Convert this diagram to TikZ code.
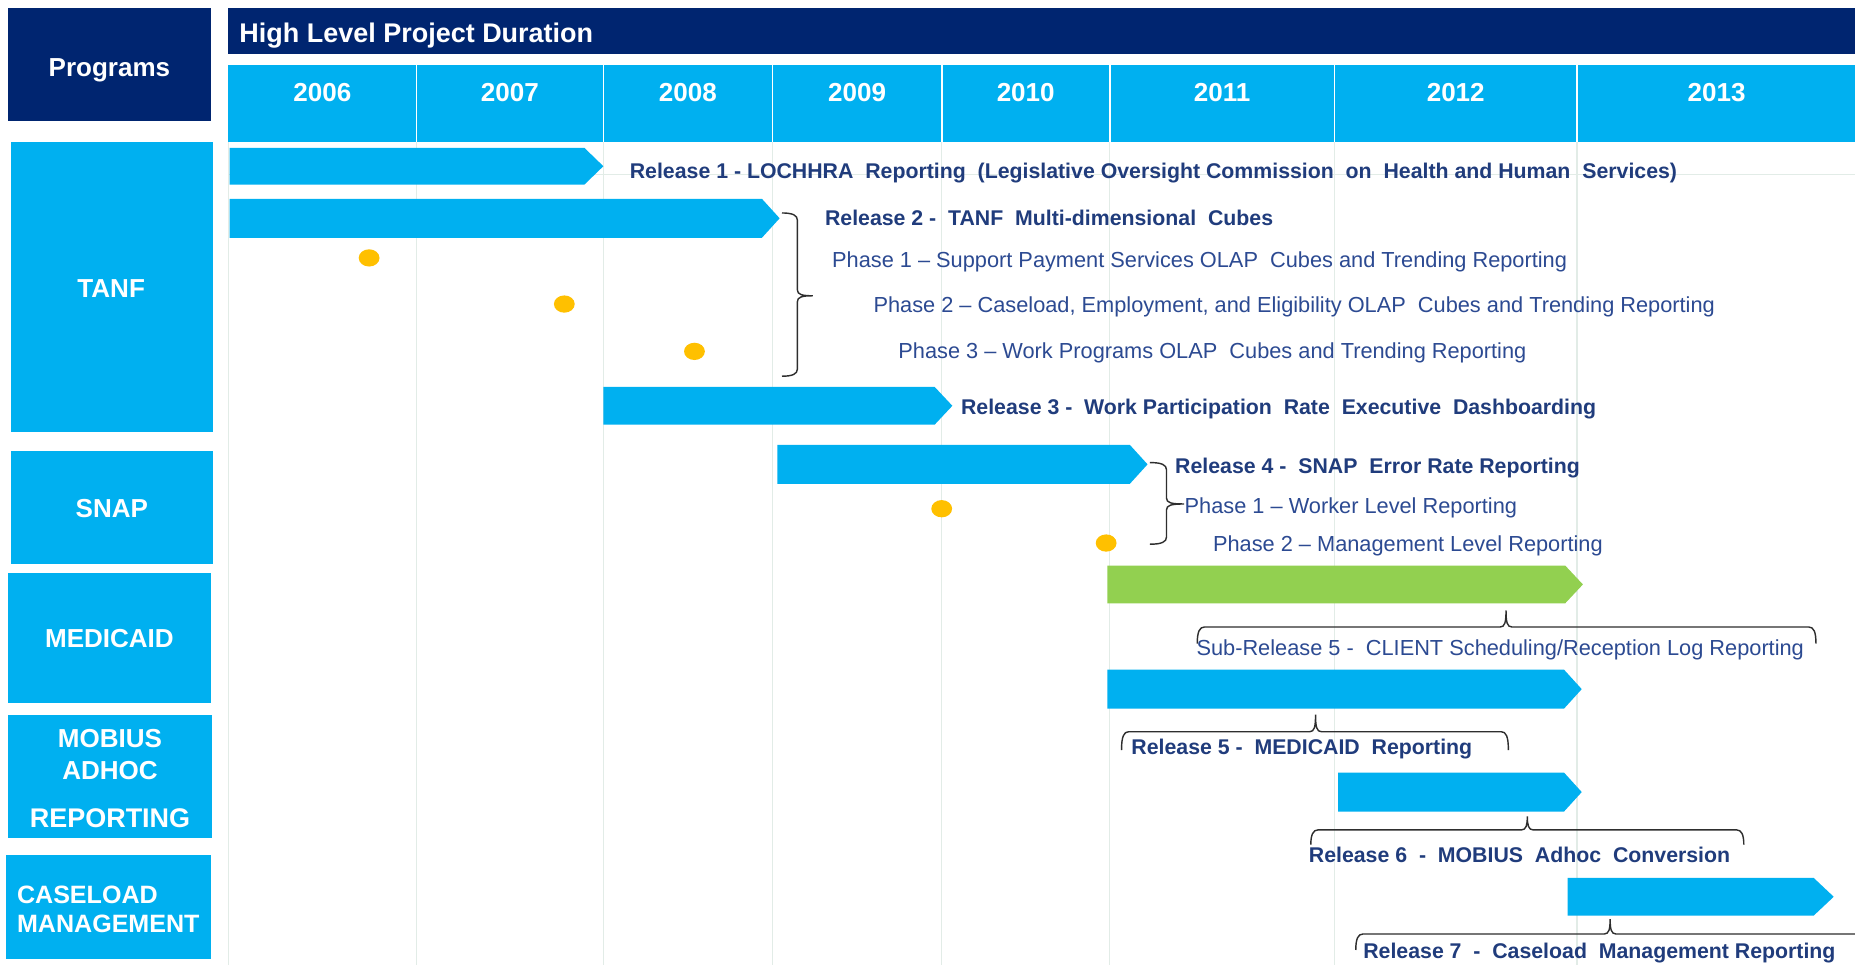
\documentclass[tikz,border=0pt]{standalone}
\usepackage{fontspec}
\setmainfont{Liberation Sans}
\usetikzlibrary{shapes.geometric}
\definecolor{navy}{HTML}{002570}
\definecolor{cyanbar}{HTML}{00B0F0}
\definecolor{greenbar}{HTML}{92D050}
\definecolor{dotyellow}{HTML}{FFC000}
\definecolor{labelblue}{HTML}{203C7C}
\definecolor{phaseblue}{HTML}{2C4A92}
\definecolor{gridline}{HTML}{E2ECE7}
\definecolor{bracegray}{HTML}{2E2E2E}
% horizontal brace, tip up: xl, xm, xr, yline, yend, ytip
\newcommand{\myhbrace}[6]{%
  \draw[bracestyle] (#1,#5) .. controls (#1,{#4+4}) and ({#1+2},#4) .. ({#1+6},#4)
    -- ({#2-5},#4) .. controls ({#2-1},#4) and (#2,{#4-4}) .. (#2,#6)
    .. controls (#2,{#4-4}) and ({#2+1},#4) .. ({#2+5},#4)
    -- ({#3-6},#4) .. controls ({#3-2},#4) and (#3,{#4+4}) .. (#3,#5);}
% vertical right brace, tip right: xend, xline, xtip, ytop, ymid, ybot
\newcommand{\myvbrace}[6]{%
  \draw[bracestyle] (#1,#4) .. controls ({#2-4},#4) and (#2,{#4+2}) .. (#2,{#4+6})
    -- (#2,{#5-5}) .. controls (#2,{#5-1}) and ({#2+4},#5) .. (#3,#5)
    .. controls ({#2+4},#5) and (#2,{#5+1}) .. (#2,{#5+5})
    -- (#2,{#6-6}) .. controls (#2,{#6-2}) and ({#2-4},#6) .. (#1,#6);}
\begin{document}
\begin{tikzpicture}[x=0.5pt,y=-0.5pt,
  whitebold/.style={text=white, font=\fontsize{11}{12}\selectfont\bfseries, inner sep=0pt},
  rel/.style={text=labelblue, font=\fontsize{9}{10}\selectfont\bfseries, inner sep=0pt, anchor=base west},
  phase/.style={text=phaseblue, font=\fontsize{9.2}{10}\selectfont, inner sep=0pt, anchor=base west},
  ganttbar/.style={fill=cyanbar},
  subbar/.style={fill=greenbar},
  bracestyle/.style={draw=bracegray, line width=0.6pt},
  milestone/.style={ellipse, fill=dotyellow, minimum width=8.8pt, minimum height=7.3pt, inner sep=0pt},
  gridln/.style={draw=gridline, line width=0.6pt}
]
\useasboundingbox (0,0) rectangle (1568,816);
\fill[white] (0,0) rectangle (1568,816);
% grid
\foreach \x in {193,352,510,653,796,938,1128,1333} \draw[gridln] (\x,120) -- (\x,816);
\draw[gridln] (193,147.5) -- (1568,147.5);
% headers
\fill[navy] (7,7) rectangle (178,102);
\node[whitebold, anchor=base] (programs) at (92.5,65) {Programs};
\fill[navy] (193,7) rectangle (1570,46);
\node[whitebold, anchor=base west, font=\fontsize{11.4}{12}\selectfont\bfseries] (title) at (202,35.5) {High Level Project Duration};
\fill[cyanbar] (193,55) rectangle (1570,120);
\foreach \x in {352,510,653,796,938,1128,1333} \draw[white, line width=0.7pt] (\x,55) -- (\x,120);
\node[whitebold, anchor=base] (y2006) at (272.5,86) {2006};
\node[whitebold, anchor=base] (y2007) at (431,86) {2007};
\node[whitebold, anchor=base] (y2008) at (581.5,86) {2008};
\node[whitebold, anchor=base] (y2009) at (724.5,86) {2009};
\node[whitebold, anchor=base] (y2010) at (867,86) {2010};
\node[whitebold, anchor=base] (y2011) at (1033,86) {2011};
\node[whitebold, anchor=base] (y2012) at (1230.5,86) {2012};
\node[whitebold, anchor=base] (y2013) at (1451,86) {2013};
% program boxes
\fill[cyanbar] (9,120) rectangle (180,365);
\node[whitebold] (tanf) at (94,243.5) {TANF};
\fill[cyanbar] (9,381) rectangle (180,477);
\node[whitebold] (snap) at (94.5,430) {SNAP};
\fill[cyanbar] (7,484) rectangle (178,594);
\node[whitebold] (medicaid) at (92.5,540) {MEDICAID};
\fill[cyanbar] (7,604) rectangle (179,708);
\node[whitebold] (mobius1) at (93,624) {MOBIUS};
\node[whitebold] (mobius2) at (93,651) {ADHOC};
\node[whitebold, font=\fontsize{11.4}{12}\selectfont\bfseries] (mobius3) at (93,692) {REPORTING};
\fill[cyanbar] (5,723) rectangle (178,811);
\node[whitebold, anchor=west, font=\fontsize{10.6}{12}\selectfont\bfseries] (case1) at (14,756) {CASELOAD};
\node[whitebold, anchor=west, font=\fontsize{10.6}{12}\selectfont\bfseries] (case2) at (14,781) {MANAGEMENT};
% bars
\fill[ganttbar] (194,125) -- (494,125) -- (510,140.5) -- (494,156) -- (194,156) -- cycle;
\fill[ganttbar] (194,168) -- (644,168) -- (659,184.5) -- (644,201) -- (194,201) -- cycle;
\fill[ganttbar] (510,327) -- (790,327) -- (805,343) -- (790,359) -- (510,359) -- cycle;
\fill[ganttbar] (657,376) -- (955,376) -- (970,392.5) -- (955,409) -- (657,409) -- cycle;
\fill[subbar] (936,478) -- (1323,478) -- (1338,494) -- (1323,510) -- (936,510) -- cycle;
\fill[ganttbar] (936,566) -- (1322,566) -- (1337,582.5) -- (1322,599) -- (936,599) -- cycle;
\fill[ganttbar] (1131,653) -- (1322,653) -- (1337,669.5) -- (1322,686) -- (1131,686) -- cycle;
\fill[ganttbar] (1325,742) -- (1533,742) -- (1550,758) -- (1533,774) -- (1325,774) -- cycle;
% milestones
\node[milestone] (m1) at (312,218) {};
\node[milestone] (m2) at (477,257) {};
\node[milestone] (m3) at (587,297) {};
\node[milestone] (m4) at (796,430) {};
\node[milestone] (m5) at (935,459) {};
% braces
\myvbrace{661}{674}{687}{180}{250}{318}
\myvbrace{972}{986}{1001}{391}{426}{460}
\myhbrace{1012}{1273}{1535}{530}{544}{516}
\myhbrace{948}{1112}{1275}{618.5}{634}{604}
\myhbrace{1108}{1291}{1474}{701.5}{714}{690}
\myhbrace{1146}{1361}{1600}{789.5}{803}{777}
% labels
\node[rel] (r1) at (532,151) {Release 1 - LOCHHRA\ \ Reporting\ \ (Legislative Oversight Commission\ \ on\ \ Health and Human\ \ Services)};
\node[rel] (r2) at (697,191) {Release 2 -\ \ TANF\ \ Multi-dimensional\ \ Cubes};
\node[phase] (p1) at (703,226) {Phase 1 – Support Payment Services OLAP\ \ Cubes and Trending Reporting};
\node[phase] (p2) at (738,264) {Phase 2 – Caseload, Employment, and Eligibility OLAP\ \ Cubes and Trending Reporting};
\node[phase] (p3) at (759,303) {Phase 3 – Work Programs OLAP\ \ Cubes and Trending Reporting};
\node[rel] (r3) at (812,350) {Release 3 -\ \ Work Participation\ \ Rate\ \ Executive\ \ Dashboarding};
\node[rel] (r4) at (993,400) {Release 4 -\ \ SNAP\ \ Error Rate Reporting};
\node[phase] (sp1) at (1001,434) {Phase 1 – Worker Level Reporting};
\node[phase] (sp2) at (1025,466) {Phase 2 – Management Level Reporting};
\node[phase] (sub5) at (1011,554) {Sub-Release 5 -\ \ CLIENT Scheduling/Reception Log Reporting};
\node[rel] (r5) at (956,638) {Release 5 -\ \ MEDICAID\ \ Reporting};
\node[rel] (r6) at (1106,729) {Release 6\ \ -\ \ MOBIUS\ \ Adhoc\ \ Conversion};
\node[rel] (r7) at (1152,810) {Release 7\ \ -\ \ Caseload\ \ Management Reporting};
\end{tikzpicture}
\end{document}
